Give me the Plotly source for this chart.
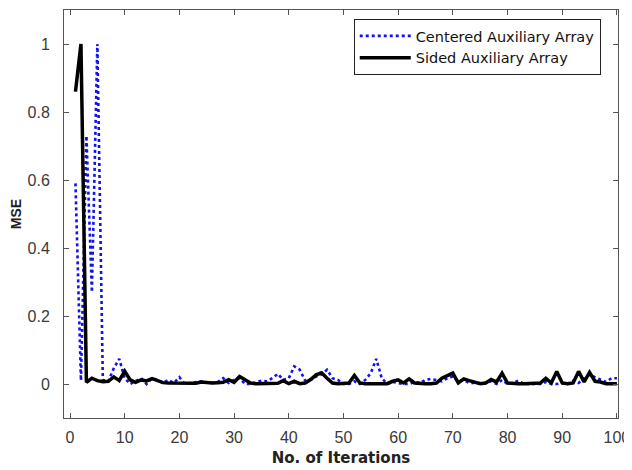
import plotly.graph_objects as go

iterations = list(range(1, 101))

centered = [0.59, 0.01, 0.73, 0.27, 1.0, 0.012, 0.008, 0.046, 0.074, 0.017,
            0.0, 0.008, 0.017, 0.0, 0.017, 0.012, 0.003, 0.012, 0.003, 0.020,
            0.0, 0.003, 0.006, 0.008, 0.004, 0.003, 0.006, 0.017, 0.003, 0.012,
            0.017, 0.0, 0.0, 0.005, 0.010, 0.008, 0.017, 0.030, 0.012, 0.017,
            0.052, 0.042, 0.010, 0.012, 0.022, 0.028, 0.042, 0.017, 0.012, 0.0,
            0.0, 0.008, 0.0, 0.012, 0.032, 0.074, 0.017, 0.0, 0.006, 0.003,
            0.0, 0.0, 0.006, 0.003, 0.012, 0.015, 0.012, 0.008, 0.017, 0.022,
            0.008, 0.012, 0.003, 0.003, 0.003, 0.003, 0.008, 0.0, 0.012, 0.0,
            0.003, 0.010, 0.0, 0.0, 0.0, 0.0, 0.006, 0.0, 0.0, 0.003,
            0.0, 0.010, 0.003, 0.017, 0.027, 0.020, 0.012, 0.006, 0.017, 0.017]

sided = [0.86, 1.0, 0.005, 0.017, 0.010, 0.007, 0.008, 0.021, 0.010, 0.038,
         0.012, 0.005, 0.012, 0.009, 0.016, 0.009, 0.004, 0.003, 0.003, 0.002,
         0.002, 0.003, 0.002, 0.006, 0.004, 0.003, 0.004, 0.005, 0.013, 0.005,
         0.022, 0.012, 0.003, 0.001, 0.001, 0.001, 0.001, 0.002, 0.010, 0.001,
         0.008, 0.001, 0.003, 0.013, 0.027, 0.033, 0.017, 0.003, 0.001, 0.001,
         0.003, 0.025, 0.003, 0.001, 0.001, 0.001, 0.001, 0.001, 0.008, 0.012,
         0.003, 0.015, 0.003, 0.001, 0.001, 0.001, 0.003, 0.017, 0.025, 0.032,
         0.003, 0.015, 0.010, 0.006, 0.001, 0.003, 0.013, 0.006, 0.032, 0.003,
         0.001, 0.001, 0.001, 0.001, 0.001, 0.003, 0.017, 0.003, 0.037, 0.003,
         0.001, 0.003, 0.037, 0.006, 0.034, 0.008, 0.006, 0.001, 0.001, 0.001]

x_ticks = [0, 10, 20, 30, 40, 50, 60, 70, 80, 90, 100]
y_ticks = [0, 0.2, 0.4, 0.6, 0.8, 1]
y_tick_labels = ["0", "0.2", "0.4", "0.6", "0.8", "1"]

font_family = "Liberation Sans, Arial, sans-serif"
legend_family = "DejaVu Sans, sans-serif"

fig = go.Figure()
fig.add_trace(go.Scatter(
    x=iterations, y=centered, mode="lines", name="Centered Auxiliary Array",
    line=dict(color="#1010f0", width=2.6, dash="dot"),
))
fig.add_trace(go.Scatter(
    x=iterations, y=sided, mode="lines", name="Sided Auxiliary Array",
    line=dict(color="#000000", width=3.5),
))

axis_common = dict(
    showline=True, linecolor="#555555", linewidth=1, mirror="ticks",
    ticks="inside", ticklen=5, tickcolor="#555555", showgrid=False,
    zeroline=False, automargin=False,
    tickfont=dict(family=font_family, size=16, color="#3a3a3a"),
)

fig.update_xaxes(
    range=[-1.1, 100.2], tickvals=x_ticks, ticklabelstandoff=5,
    title=dict(text="<b>No. of Iterations</b>", standoff=7,
               font=dict(family=legend_family, size=15, color="#222222")),
    **axis_common,
)
fig.update_yaxes(
    range=[-0.1, 1.1], tickvals=y_ticks, ticktext=y_tick_labels,
    ticklabelstandoff=10,
    title=dict(text="<b>MSE</b>", standoff=3,
               font=dict(family=font_family, size=14, color="#222222")),
    **axis_common,
)

# The page shows the figure 8 px in from the top-left corner, so the
# figure is 8 px smaller and its margins are measured from that offset.
fig.update_layout(
    width=624, height=462,
    margin=dict(l=56, r=14, t=2, b=52),
    plot_bgcolor="white", paper_bgcolor="white",
    font=dict(family=font_family, size=12, color="#222222"),
    legend=dict(
        x=0.523, y=0.978, xanchor="left", yanchor="top",
        bgcolor="white", bordercolor="#222222", borderwidth=1,
        font=dict(family=legend_family, size=14.5, color="#111111"),
        tracegroupgap=0, itemwidth=51,
    ),
)

fig.write_html("out.html")
